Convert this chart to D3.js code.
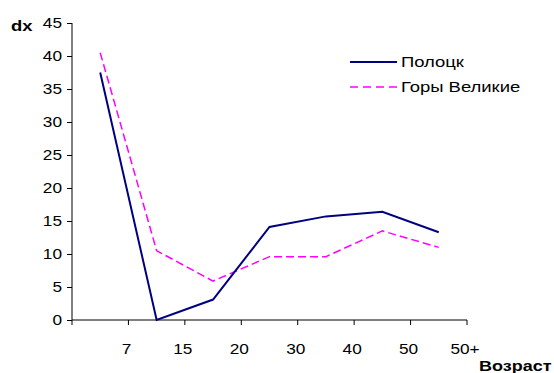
<!DOCTYPE html>
<html><head><meta charset="utf-8">
<script src="https://cdn.jsdelivr.net/npm/d3@7"></script>
<style>body{margin:0;background:#fff}svg{display:block}text{font-family:"Liberation Sans",Arial,sans-serif}</style>
</head><body>
<script>
const categories = ["7","15","20","30","40","50","50+"];
const polotsk = [37.5, 0, 3.1, 14.1, 15.7, 16.4, 13.3];
const gory = [40.5, 10.5, 5.9, 9.6, 9.6, 13.5, 11.0];
const yTicks = [0,5,10,15,20,25,30,35,40,45];
const seriesNames = ["Полоцк","Горы Великие"];

const W=554,H=373, SX=1.23;
const svg=d3.select("body").append("svg").attr("width",W).attr("height",H);
const x=d3.scaleBand().domain(categories).range([72,467]);
const y=d3.scaleLinear().domain([0,45]).range([320,23]);

function txt(g,xx,yy,s,opts={}){
  const t=g.append("text").attr("transform",`translate(${xx},${yy}) scale(${opts.sx||SX},1)`)
    .attr("font-size",opts.size||15).attr("fill","#000").text(s);
  if(opts.anchor) t.attr("text-anchor",opts.anchor);
  if(opts.bold) t.attr("font-weight","bold");
  if(opts.dy) t.attr("dy",opts.dy);
  return t;
}

// Y axis
const ya=svg.append("g").attr("transform","translate(72,0)")
  .call(d3.axisLeft(y).tickValues(yTicks).tickSize(5).tickFormat(""));
ya.selectAll("path,line").attr("stroke","#000");
ya.select(".domain").attr("d","M0,23V320");
yTicks.forEach(v=>txt(svg,62,y(v),String(v),{anchor:"end",dy:"0.36em",sx:1.15}));

// X axis
const bounds=[0].concat(categories.map((c,i)=>i+1));
const xa=svg.append("g");
xa.append("line").attr("x1",72).attr("x2",467).attr("y1",320).attr("y2",320).attr("stroke","#000");
bounds.forEach(i=>{
  const px=72+i*x.step();
  xa.append("line").attr("x1",px).attr("x2",px).attr("y1",320).attr("y2",325).attr("stroke","#000");
});
categories.forEach((c,i)=>{
  txt(svg,x(c)+x.bandwidth()-2,354,c,{anchor:"middle",sx:1.15});
});

// Lines
const line=d3.line().x((d,i)=>x(categories[i])+x.bandwidth()/2).y(d=>y(d));
svg.append("path").datum(gory).attr("d",line).attr("fill","none")
  .attr("stroke","#FF00FF").attr("stroke-width",1.5).attr("stroke-dasharray","8,4");
svg.append("path").datum(polotsk).attr("d",line).attr("fill","none")
  .attr("stroke","#000080").attr("stroke-width",2);

// Labels
txt(svg,11,31,"dx",{bold:true});
txt(svg,479,371,"Возраст",{bold:true,sx:1.2});

// Legend
const lg=svg.append("g");
lg.append("line").attr("x1",350).attr("x2",397).attr("y1",62).attr("y2",62).attr("stroke","#000080").attr("stroke-width",2);
lg.append("line").attr("x1",350).attr("x2",397).attr("y1",87).attr("y2",87).attr("stroke","#FF00FF").attr("stroke-width",1.5).attr("stroke-dasharray","8,5");
txt(lg,401,62,seriesNames[0],{dy:"0.36em"});
txt(lg,401,87,seriesNames[1],{dy:"0.36em"});
</script>
</body></html>
